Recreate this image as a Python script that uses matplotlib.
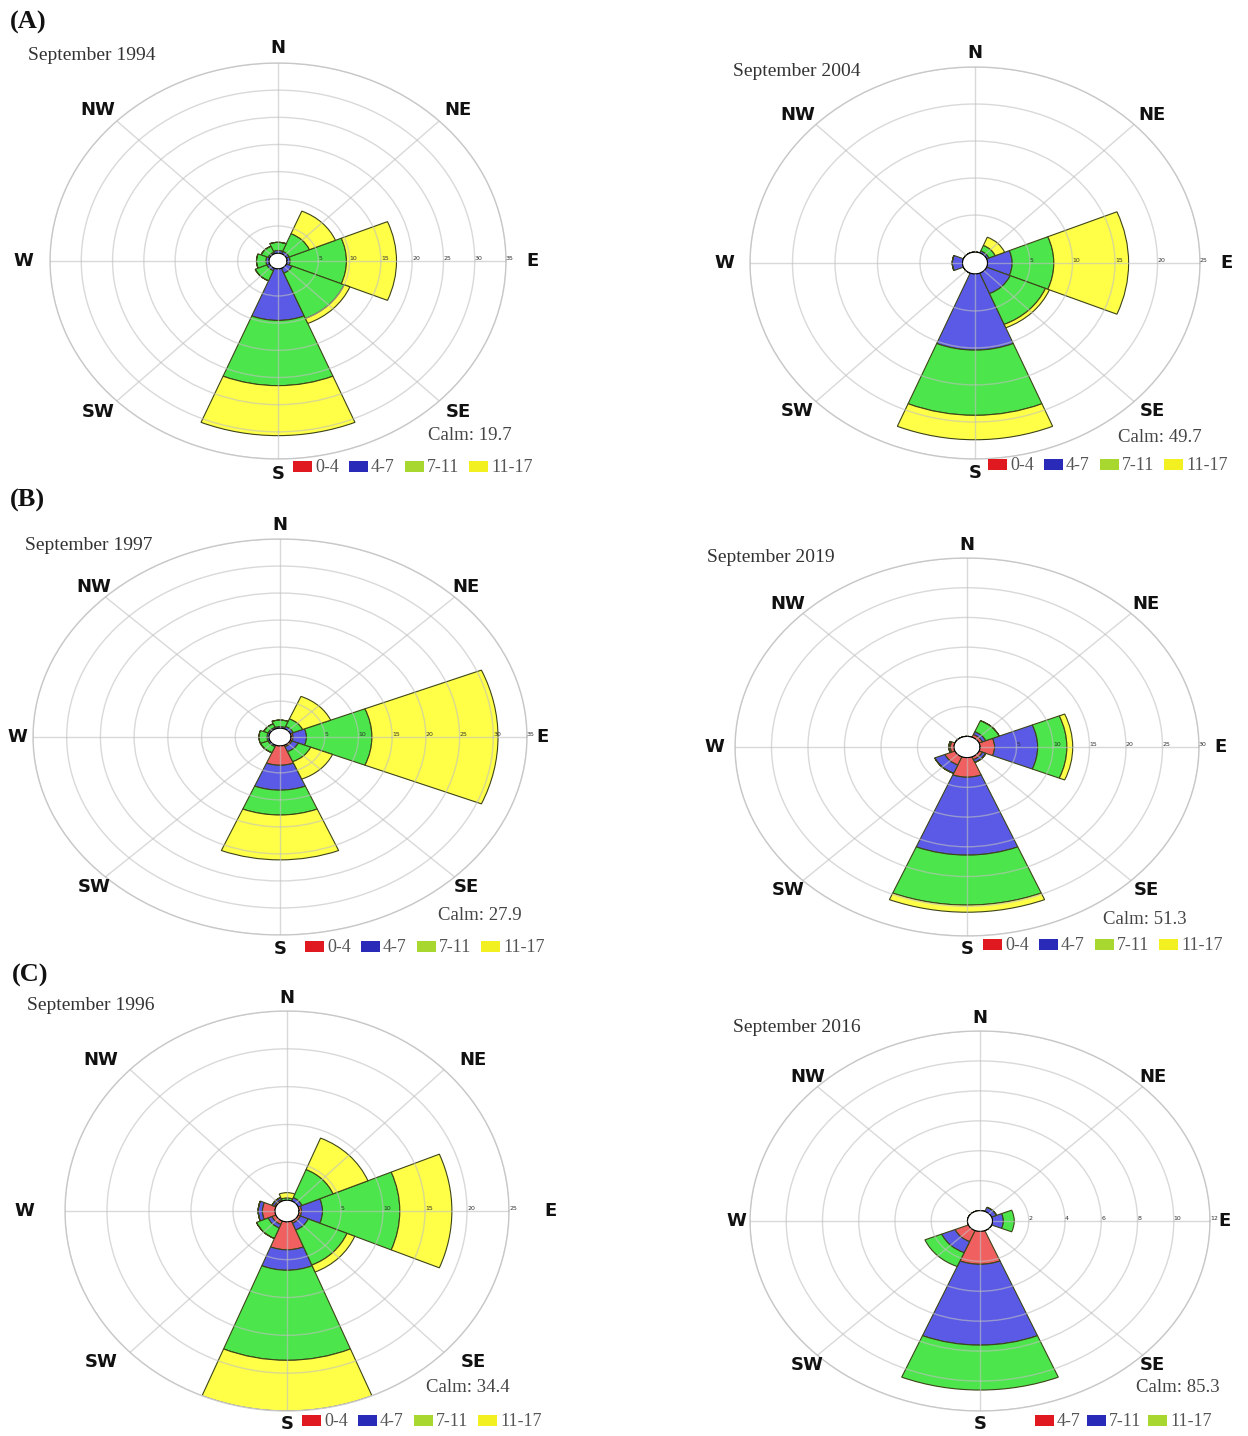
import numpy as np
import matplotlib
matplotlib.use("Agg")
import matplotlib.pyplot as plt
from matplotlib.patches import Rectangle

W, H = 1248, 1436

# directions counter-clockwise from east
dir_names = ["E", "NE", "N", "NW", "W", "SW", "S", "SE"]
dir_angles = np.deg2rad(np.arange(0, 360, 45))

speed_labels = ["0-4", "4-7", "7-11", "11-17"]
speed_labels_2016 = ["4-7", "7-11", "11-17"]

# frequency (%) per direction, one list per speed class
#              E    NE   N    NW   W    SW   S     SE
s1994_red   = [0.0, 0.0, 0.0, 0.0, 0.0, 0.0, 0.0,  0.0]
s1994_blue  = [0.5, 0.5, 0.5, 0.3, 0.5, 0.5, 9.5,  1.0]
s1994_green = [9.0, 3.5, 1.5, 1.2, 1.5, 2.0, 12.0, 9.0]
s1994_yell  = [8.0, 4.5, 0.0, 0.0, 0.0, 0.0, 9.2,  1.0]

s2004_red   = [0.0, 0.0, 0.0, 0.0, 0.0, 0.0, 0.0,  0.0]
s2004_blue  = [2.9, 0.3, 0.0, 0.0, 1.2, 0.0, 10.3, 3.0]
s2004_green = [4.9, 0.8, 0.0, 0.0, 0.0, 0.0, 8.8,  4.5]
s2004_yell  = [8.8, 1.2, 0.0, 0.0, 0.0, 0.0, 3.3,  0.5]

s1997_red   = [0.3, 0.0, 0.0, 0.0, 0.0, 0.0, 3.6, 0.3]
s1997_blue  = [2.0, 0.5, 0.3, 0.3, 0.3, 0.3, 4.6, 1.0]
s1997_green = [9.7, 1.5, 1.2, 0.7, 1.2, 1.2, 4.6, 2.0]
s1997_yell  = [18.7, 4.5, 0.0, 0.0, 0.0, 0.0, 8.3, 3.5]

s2019_red   = [2.0, 0.5, 0.0, 0.0, 0.5, 1.5, 3.3,  0.5]
s2019_blue  = [5.9, 0.5, 0.0, 0.0, 0.2, 1.5, 13.1, 0.5]
s2019_green = [4.0, 2.0, 0.0, 0.0, 0.0, 0.0, 8.4,  0.0]
s2019_yell  = [0.8, 0.0, 0.0, 0.0, 0.0, 0.0, 1.2,  0.0]

s1996_red   = [0.3, 0.0, 0.0, 0.2, 1.5, 0.5, 3.7,  0.3]
s1996_blue  = [2.5, 0.5, 0.0, 0.3, 0.5, 0.5, 2.7,  1.0]
s1996_green = [9.2, 4.0, 0.3, 0.0, 0.0, 1.5, 11.9, 5.0]
s1996_yell  = [6.2, 4.5, 0.7, 0.0, 0.0, 0.0, 6.7,  1.0]

s2016_red   = [0.0, 0.0, 0.0, 0.0, 0.0, 0.8, 2.2, 0.0]
s2016_blue  = [0.6, 0.3, 0.0, 0.0, 0.0, 0.8, 5.4, 0.0]
s2016_green = [0.6, 0.0, 0.0, 0.0, 0.0, 1.0, 3.0, 0.0]

calm_values = [19.7, 49.7, 27.9, 51.3, 34.4, 85.3]
titles = ["September 1994", "September 2004", "September 1997",
          "September 2019", "September 1996", "September 2016"]

bar_colors = ["#f06060", "#5a5ae6", "#4ce64c", "#ffff48"]
legend_colors = ["#e01820", "#2a2ab8", "#a8d830", "#f2f020"]

panels = [
    dict(data=[s1994_red, s1994_blue, s1994_green, s1994_yell], labels=speed_labels,
         cx=278, cy=261, rx=228, ry=198, rmax=35, step=5, hole=9, ox=255, oy=213,
         title=(28, 55), calm=(470, 435), leg=(293, 467)),
    dict(data=[s2004_red, s2004_blue, s2004_green, s2004_yell], labels=speed_labels,
         cx=975, cy=263, rx=225, ry=196, rmax=25, step=5, hole=12.5, ox=251, oy=210,
         title=(733, 72), calm=(1160, 437), leg=(988, 465)),
    dict(data=[s1997_red, s1997_blue, s1997_green, s1997_yell], labels=speed_labels,
         cx=280, cy=737, rx=247, ry=198, rmax=35, step=5, hole=11, ox=263, oy=212,
         title=(25, 545), calm=(480, 915), leg=(305, 947)),
    dict(data=[s2019_red, s2019_blue, s2019_green, s2019_yell], labels=speed_labels,
         cx=967, cy=747, rx=232, ry=189, rmax=30, step=5, hole=13, ox=253, oy=202,
         title=(707, 557), calm=(1145, 920), leg=(983, 945)),
    dict(data=[s1996_red, s1996_blue, s1996_green, s1996_yell], labels=speed_labels,
         cx=287, cy=1211, rx=222, ry=200, rmax=25, step=5, hole=12, ox=263, oy=213,
         title=(27, 1005), calm=(468, 1388), leg=(302, 1421)),
    dict(data=[s2016_red, s2016_blue, s2016_green], labels=speed_labels_2016,
         cx=980, cy=1221, rx=230, ry=190, rmax=12, step=2, hole=12.5, ox=244, oy=203,
         title=(733, 1027), calm=(1178, 1388), leg=(1035, 1421)),
]

serif = "Liberation Serif"
sans = "DejaVu Sans"


def fx(x):
    return x / W


def fy(y):
    return 1 - y / H


fig = plt.figure(figsize=(W / 100, H / 100), dpi=100)
fig.patch.set_facecolor("white")

for p in panels:
    rect = [fx(p["cx"] - p["rx"]), fy(p["cy"] + p["ry"]), 2 * p["rx"] / W, 2 * p["ry"] / H]
    ax = fig.add_axes(rect, projection="polar")
    ax.set_aspect("auto")
    rmax = p["rmax"]
    ax.set_rorigin(-p["hole"] / (p["rx"] - p["hole"]) * rmax)
    ax.set_ylim(0, rmax)

    bottom = np.zeros(len(dir_angles))
    for vals, col in zip(p["data"], bar_colors):
        vals = np.array(vals)
        ax.bar(dir_angles, vals, width=np.deg2rad(45), bottom=bottom, color=col,
               edgecolor="#3c4418", linewidth=0.8, zorder=2)
        bottom += vals

    ticks = np.arange(p["step"], rmax + 0.1, p["step"])
    ax.set_rgrids(ticks, labels=[f"{t:g}" for t in ticks], angle=0,
                  fontsize=4.5, color="#333333")
    ax.set_thetagrids(np.arange(0, 360, 45), labels=[""] * 8)
    ax.grid(color="#c0c0c0", linewidth=1.0, alpha=0.6, zorder=3)
    ax.set_axisbelow(False)
    ax.spines["polar"].set_color("#cccccc")
    ax.spines["polar"].set_linewidth(1.0)
    ax.patch.set_alpha(0)

    # compass labels
    for name, a in zip(dir_names, np.arange(0, 360, 45)):
        t = np.deg2rad(a)
        x = p["cx"] + p["ox"] * np.cos(t)
        y = p["cy"] - p["oy"] * np.sin(t)
        fig.text(fx(x), fy(y), name, ha="center", va="center", fontsize=13,
                 fontweight="bold", family=sans, color="#111111")

for p, t, c in zip(panels, titles, calm_values):
    fig.text(fx(p["title"][0]), fy(p["title"][1]), t, ha="left", va="center",
             fontsize=14, family=serif, color="#333333")
    fig.text(fx(p["calm"][0]), fy(p["calm"][1]), f"Calm: {c}", ha="center", va="center",
             fontsize=13.5, family=serif, color="#444444")
    # legend row
    lx, ly = p["leg"]
    offsets = [0, 56, 112, 176] if len(p["labels"]) == 4 else [0, 52, 113]
    for off, lab, col in zip(offsets, p["labels"], legend_colors):
        fig.patches.append(Rectangle((fx(lx + off), fy(ly + 5)), 19 / W, 11 / H,
                                     transform=fig.transFigure, facecolor=col,
                                     edgecolor="none"))
        fig.text(fx(lx + off + 22), fy(ly), lab, ha="left", va="center",
                 fontsize=13, family=serif, color="#555555")

for lab, (x, y) in zip(["(A)", "(B)", "(C)"], [(10, 22), (10, 500), (12, 975)]):
    fig.text(fx(x), fy(y), lab, ha="left", va="center", fontsize=19,
             fontweight="bold", family=serif, color="#111111")

fig.savefig("out.png", dpi=100, facecolor="white")
